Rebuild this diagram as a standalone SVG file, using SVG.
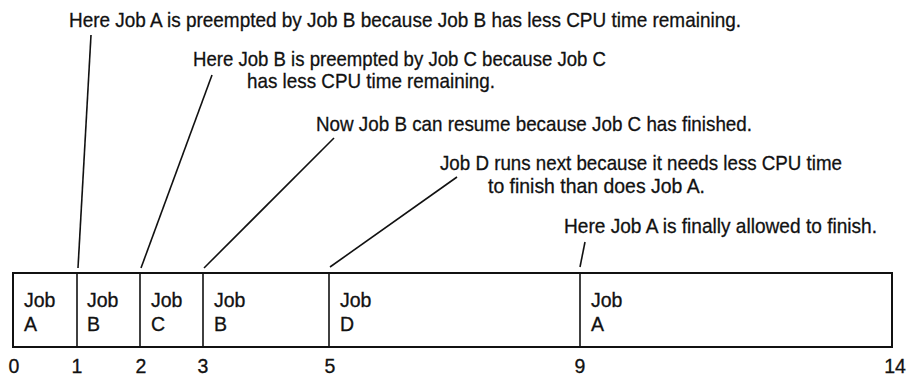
<svg xmlns="http://www.w3.org/2000/svg" width="910" height="378" viewBox="0 0 910 378">
<style>
text{font-family:"Liberation Sans Narrow","Liberation Sans",Arial,sans-serif;font-size:21px;fill:#111;stroke:#111;stroke-width:0.3}
.c{font-size:19.5px}
.n{text-anchor:middle;font-size:19.5px}
.ln{stroke:#111;stroke-width:1.6;fill:none}
.bx{stroke:#111;stroke-width:2;fill:#fff}
</style>
<rect width="910" height="378" fill="#fff"/>
<g id="notes">
<text x="69" y="27" textLength="672" lengthAdjust="spacingAndGlyphs">Here Job A is preempted by Job B because Job B has less CPU time remaining.</text>
<text x="193" y="66" textLength="413" lengthAdjust="spacingAndGlyphs">Here Job B is preempted by Job C because Job C</text>
<text x="247" y="88" textLength="248" lengthAdjust="spacingAndGlyphs">has less CPU time remaining.</text>
<text x="316" y="131" textLength="436" lengthAdjust="spacingAndGlyphs">Now Job B can resume because Job C has finished.</text>
<text x="440" y="170" textLength="402" lengthAdjust="spacingAndGlyphs">Job D runs next because it needs less CPU time</text>
<text x="488" y="193" textLength="217" lengthAdjust="spacingAndGlyphs">to finish than does Job A.</text>
<text x="564" y="233" textLength="313" lengthAdjust="spacingAndGlyphs">Here Job A is finally allowed to finish.</text>
</g>
<g id="connectors">
<line class="ln" x1="91" y1="35" x2="78" y2="268"/>
<line class="ln" x1="212" y1="75" x2="141" y2="268"/>
<line class="ln" x1="334" y1="138" x2="204" y2="268"/>
<line class="ln" x1="457" y1="177" x2="330" y2="267"/>
<line class="ln" x1="585" y1="242" x2="580" y2="267"/>
</g>
<g id="timeline">
<rect class="bx" x="13" y="273" width="879" height="74"/>
<line class="ln" x1="77" y1="273" x2="77" y2="347"/>
<line class="ln" x1="140" y1="273" x2="140" y2="347"/>
<line class="ln" x1="203" y1="273" x2="203" y2="347"/>
<line class="ln" x1="329" y1="273" x2="329" y2="347"/>
<line class="ln" x1="580" y1="273" x2="580" y2="347"/>
</g>
<g id="jobA1"><text class="c" x="24" y="307">Job</text><text class="c" x="24" y="331">A</text></g>
<g id="jobB1"><text class="c" x="87" y="307">Job</text><text class="c" x="87" y="331">B</text></g>
<g id="jobC"><text class="c" x="151" y="307">Job</text><text class="c" x="151" y="331">C</text></g>
<g id="jobB2"><text class="c" x="214" y="307">Job</text><text class="c" x="214" y="331">B</text></g>
<g id="jobD"><text class="c" x="340" y="307">Job</text><text class="c" x="340" y="331">D</text></g>
<g id="jobA2"><text class="c" x="591" y="307">Job</text><text class="c" x="591" y="331">A</text></g>
<g id="axis">
<text class="n" x="14" y="373">0</text>
<text class="n" x="77" y="373">1</text>
<text class="n" x="141" y="373">2</text>
<text class="n" x="203" y="373">3</text>
<text class="n" x="330" y="373">5</text>
<text class="n" x="580" y="373">9</text>
<text class="n" x="895" y="373">14</text>
</g>
</svg>
